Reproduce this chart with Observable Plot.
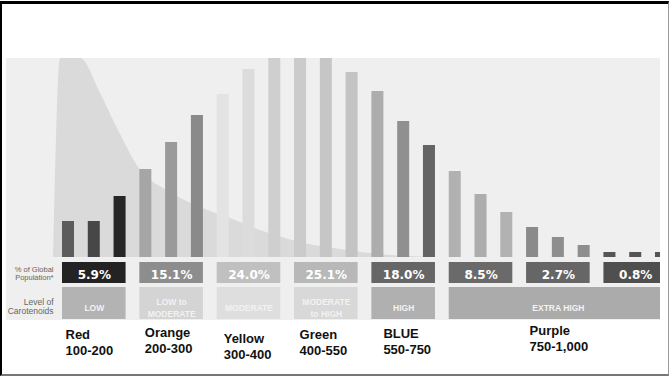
<!DOCTYPE html>
<html><head><meta charset="utf-8">
<script src="https://cdn.jsdelivr.net/npm/d3@7"></script>
<script src="https://cdn.jsdelivr.net/npm/@observablehq/plot@0.6"></script>
<style>
html,body{margin:0;padding:0;background:#fff;}
#wrap{position:relative;width:670px;height:376px;overflow:hidden;}
#panel{position:absolute;left:6px;top:58px;width:654px;height:262px;background:#efefef;}
#chart{position:absolute;left:0;top:0;width:660px;height:376px;overflow:hidden;}
#chart svg{max-width:none !important;width:670px !important;height:376px !important;}
#frame{position:absolute;left:0;top:1px;width:669px;height:375px;box-sizing:border-box;border-left:2px solid #000;border-top:3px solid #000;border-right:1px solid #999;border-bottom:2px solid #777;pointer-events:none;}
</style></head>
<body><div id="wrap"><div id="panel"></div><div id="chart"></div><div id="frame"></div></div>
<script>
// ---- data ----
const barValues = [36,36,61, 88,115,142, 163,188,199, 199,199,185, 166,136,112, 86,63,45, 30,20,12, 5,5,5];
const groupShares = ["5.9%","15.1%","24.0%","25.1%","18.0%","8.5%","2.7%","0.8%"];
const levelLabels = ["LOW","LOW to\nMODERATE","MODERATE","MODERATE\nto HIGH","HIGH","EXTRA HIGH"];
const levelFirstGroup = [0,1,2,3,4,5];
const levelLastGroup = [0,1,2,3,4,7];
const colorNames = ["Red","Orange","Yellow","Green","BLUE","Purple"];
const scoreRanges = ["100-200","200-300","300-400","400-550","550-750","750-1,000"];
const colorGroup = [0,1,2,3,4,6];
const curveX = [-0.58,-0.31,0.47,1.24,1.90,2.75,3.96,5.12,6.28,7.45,9.0,10.55,12.49,14.43];
const curveY = [0,199,199,164,129,89,65,50,39,27,15,8,2,0];

// ---- styles ----
const barShades = ["#5c5c5c","#474747","#262626","#a6a6a6","#9a9a9a","#8a8a8a","#e3e3e3","#dcdcdc","#cfcfcf","#cbcbcb","#c6c6c6","#c3c3c3","#adadad","#909090","#646464","#b1b1b1","#adadad","#b2b2b2","#8a8a8a","#8e8e8e","#8e8e8e","#555555","#555555","#555555"];
const shareShades = ["#232323","#8d8d8d","#c0c0c0","#b8b8b8","#666666","#6a6a6a","#666666","#4f4f4f"];
const levelShades = ["#b3b3b3","#d4d4d4","#dedede","#d8d8d8","#b0b0b0","#ababab"];
const labelDx = [3,5,6.5,5,11.5,3];
const labelDy = [0,-2,4,0,-1,-4];

const hw = 0.233;
const bars = barValues.map((v,i)=>({i, v, shade: barShades[i]}));
const shares = groupShares.map((s,g)=>({g, s, shade: shareShades[g]}));
const levels = levelLabels.map((t,k)=>({t, a: levelFirstGroup[k], b: levelLastGroup[k], shade: levelShades[k]}));
const curve = curveX.map((x,k)=>({x, y: curveY[k]}));
const labels = colorNames.map((n,k)=>({n, r: scoreRanges[k], g: colorGroup[k]}));

const marks = [
  Plot.areaY(curve, {x:"x", y:"y", fill:"#dadada", curve:"monotone-x"}),
  Plot.rectY(bars, {x1: d=>d.i-hw, x2: d=>d.i+hw, y1: 0, y2: "v", fill:"shade"}),
  Plot.rect(shares, {x1: d=>d.g*3-hw, x2: d=>d.g*3+2+hw, y1:-5, y2:-26, fill:"shade"}),
  Plot.text(shares, {x: d=>d.g*3+1, y:-17.5, text:"s", fill:"white", fontSize:12, fontWeight:"bold", fontFamily:"DejaVu Sans"}),
  Plot.rect(levels, {x1: d=>d.a*3-hw, x2: d=>d.b*3+2+hw, y1:-30, y2:-62, fill:"shade"}),
  Plot.text(levels, {x: d=>(d.a*3 + d.b*3+2)/2, y:-49.5, text:"t", fill:"#f2f2f2", fontSize:8.5, fontWeight:"bold", fontFamily:"Liberation Sans, Arial", lineHeight:1.5}),
  Plot.text(["% of Global\nPopulation*"], {x:-0.58, y:-15.5, textAnchor:"end", fill:"#666", fontSize:7.5, fontFamily:"Liberation Sans, Arial", lineHeight:1.1}),
  Plot.text(["Level of\nCarotenoids"], {x:-0.58, y:-49, textAnchor:"end", fill:"#666", fontSize:8.5, fontFamily:"Liberation Sans, Arial", lineHeight:1.1}),
  ...labels.map((d,k)=>Plot.text([d], {x: d=>d.g*3-hw, y:-70.8, text: d=>d.n+"\n"+d.r, textAnchor:"start", lineAnchor:"top", dx: labelDx[k], dy: labelDy[k], fill:"#111", fontSize:13, fontWeight:"bold", fontFamily:"Liberation Sans, Arial", lineHeight:1.2}))
];

const chart = Plot.plot({
  width: 670, height: 376,
  marginLeft: 68, marginRight: 9, marginTop: 58, marginBottom: 119,
  x: {domain:[0,23], axis:null},
  y: {domain:[0,199], axis:null},
  color: {type:"identity"},
  style: {background:"none", overflow:"visible", maxWidth:"none"},
  marks
});
document.getElementById("chart").appendChild(chart);
</script>
</body></html>
